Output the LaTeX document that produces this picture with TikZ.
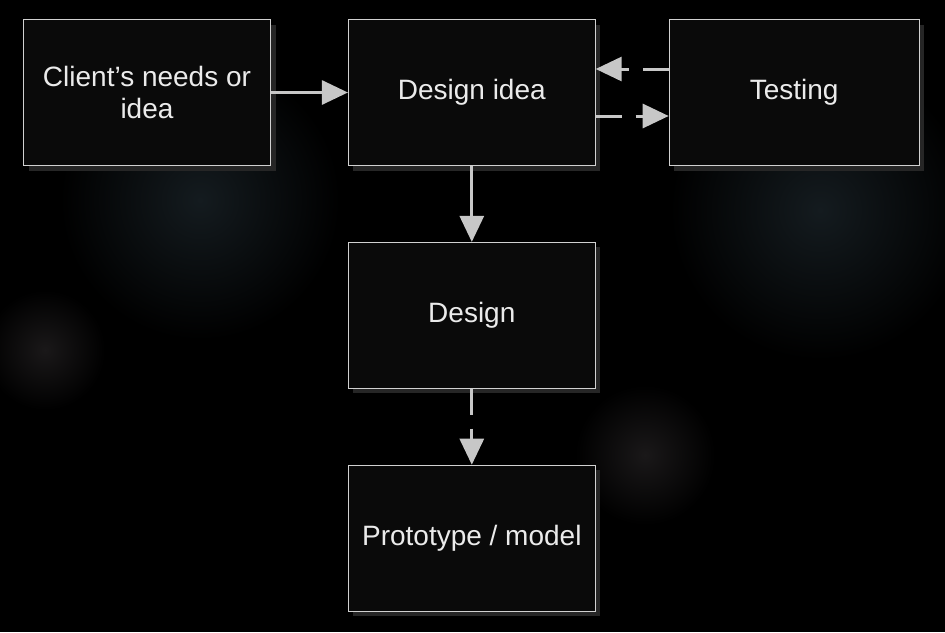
\documentclass[tikz,border=0pt]{standalone}
\usepackage{fontspec}
\setmainfont{Liberation Sans}
\usetikzlibrary{positioning,shadows,arrows.meta}
\definecolor{glow}{RGB}{20,27,31}
\definecolor{spot}{RGB}{26,24,25}

\begin{document}
\begin{tikzpicture}[x=1pt, y=-1pt, node distance=76pt,
  stage/.style={rectangle, draw=black!18, line width=0.8pt, fill=black!96,
    minimum width=247pt, minimum height=146pt, align=center,
    text=black!8, font=\fontsize{28}{32}\selectfont,
    drop shadow={shadow xshift=5pt, shadow yshift=-5pt, fill=black!85, opacity=1}},
  flow/.style={draw=black!22, line width=3pt, -{Triangle[length=26pt, width=24pt]}},
  loose/.style={flow, dash pattern=on 26pt off 14pt}]

  % background
  \useasboundingbox (0,0) rectangle (945,632);
  \fill[black] (0,0) rectangle (945,632);
  \shade[inner color=spot, outer color=black] (45,350) circle (60);
  \shade[inner color=spot, outer color=black] (645,455) circle (70);
  \shade[inner color=glow, outer color=black] (200,200) circle (140);
  \shade[inner color=glow, outer color=black] (820,210) circle (150);

  % Stages
  \node[stage] (client) at (147,92.5) {Client’s needs or\\idea};
  \node[stage, right=77pt of client] (idea) {Design idea};
  \node[stage, minimum width=250pt, right=73pt of idea] (testing) {Testing};
  \node[stage, below=of idea] (design) {Design};
  \node[stage, below=of design] (proto) {Prototype / model};

  % Connectors
  \draw[flow] (client) -- (idea);
  \draw[flow] (idea) -- (design);
  \draw[loose] (design) -- (proto);
  \draw[loose] ([yshift=23.5pt]testing.west) -- ([yshift=23.5pt]idea.east);
  \draw[loose] ([yshift=-23.5pt]idea.east) -- ([yshift=-23.5pt]testing.west);
\end{tikzpicture}
\end{document}
